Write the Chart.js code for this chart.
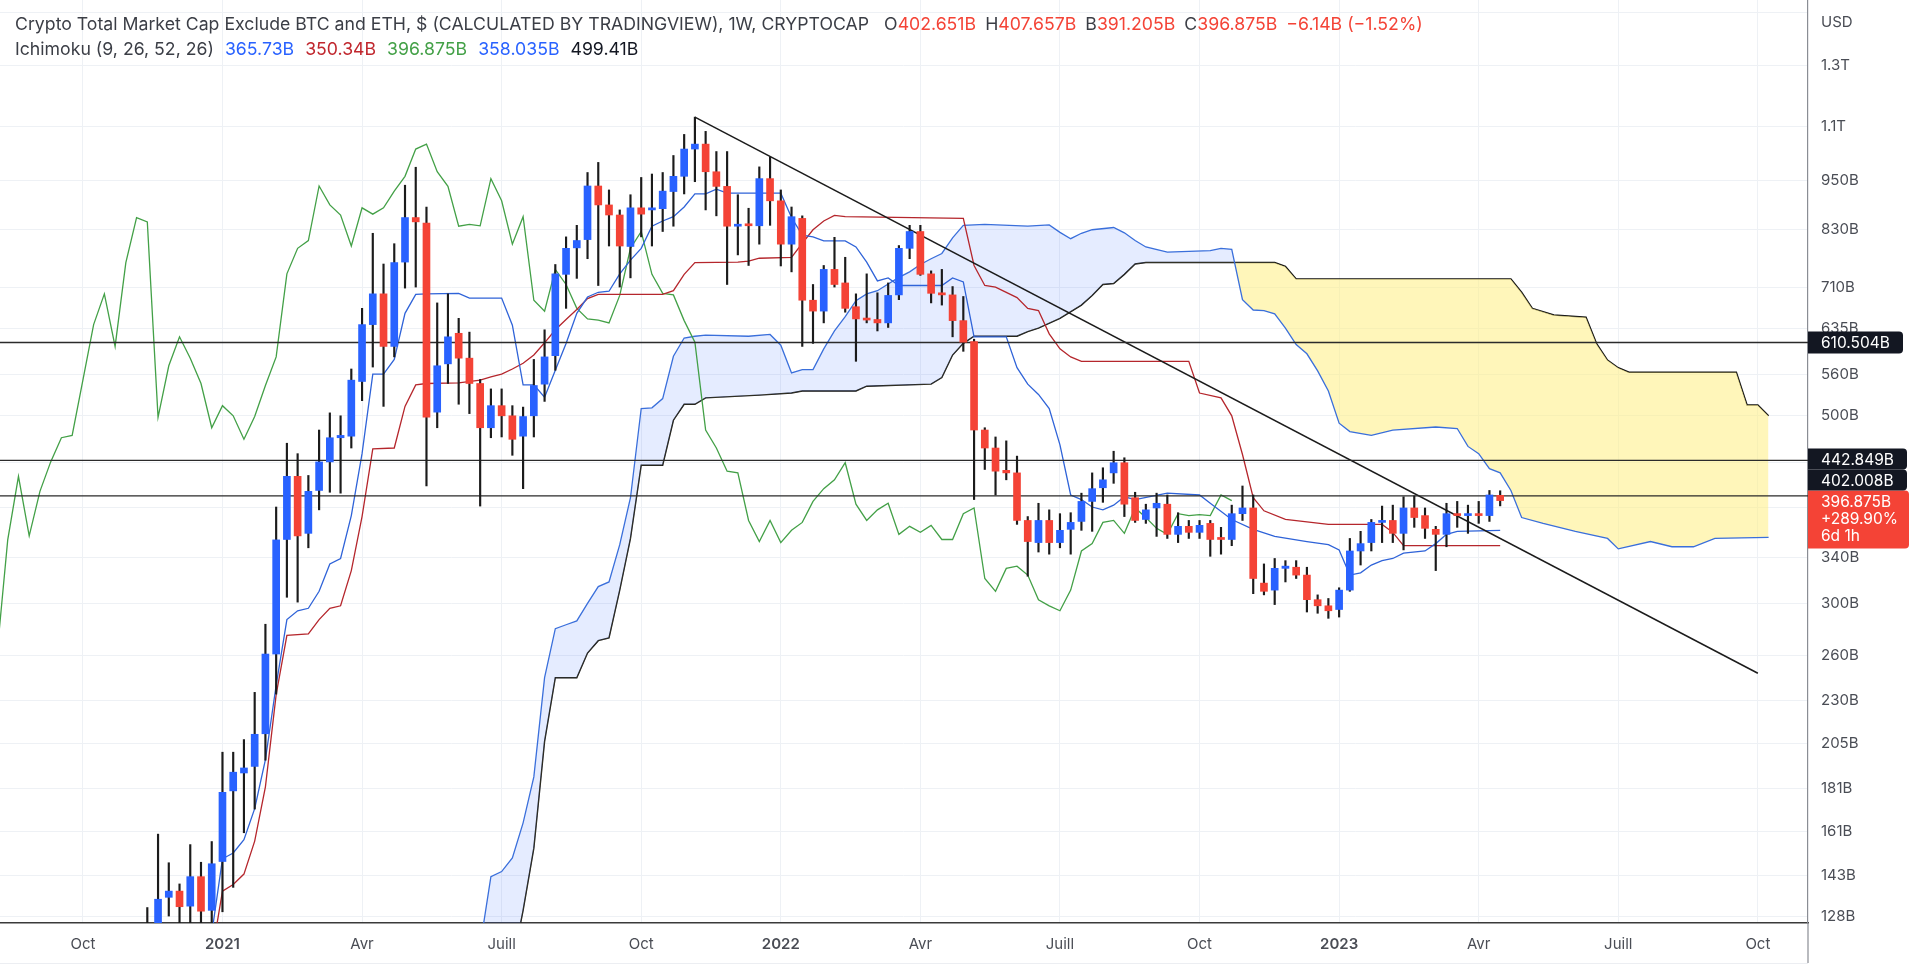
<!DOCTYPE html>
<html>
<head>
<meta charset="utf-8">
<title>Crypto Total Market Cap Exclude BTC and ETH</title>
<script src="https://cdn.jsdelivr.net/npm/chart.js@4.4.0/dist/chart.umd.min.js"></script>
<style>
  html, body { margin: 0; padding: 0; background: #fff; }
  #wrap { position: relative; width: 1920px; height: 968px; overflow: hidden; }
  #c { position: absolute; left: 0; top: 0; }
  .hdr { position: absolute; left: 15px; font-family: Inter, "Noto Sans", sans-serif; font-size: 17.7px;
         line-height: 20px; color: #3b3e46; white-space: nowrap; }
  .hdr .r { color: #f44336; }
  .hdr .gap { margin-left: 15px; }
  .hdr .sp { margin-left: 9px; }
  .hdr .sp2 { margin-left: 11px; }
  #usd { position: absolute; left: 1821px; top: 12px; font-family: Inter, sans-serif; font-size: 15px; color: #4a4d55; }
</style>
</head>
<body>
<div id="wrap">
  <canvas id="c" width="1920" height="968"></canvas>
  <div class="hdr" style="top:14px">Crypto Total Market Cap Exclude BTC and ETH, $ (CALCULATED BY TRADINGVIEW), 1W, CRYPTOCAP<span class="gap">O</span><span class="r">402.651B</span><span class="sp">H</span><span class="r">407.657B</span><span class="sp">B</span><span class="r">391.205B</span><span class="sp">C</span><span class="r">396.875B</span><span class="r sp">−6.14B (−1.52%)</span></div>
  <div class="hdr" style="top:39px">Ichimoku (9, 26, 52, 26)<span class="sp2" style="color:#2962ff">365.73B</span><span class="sp2" style="color:#c0262d">350.34B</span><span class="sp2" style="color:#43a047">396.875B</span><span class="sp2" style="color:#2962ff">358.035B</span><span class="sp2" style="color:#131722">499.41B</span></div>
  <div id="usd">USD</div>
</div>
<script>
// weekly candles, first one is week -7 (week 0 = first week of 2021), values in billions USD
const firstWeek = -7;

const opens = [
  112, 122, 134.7, 137, 131.5, 142.5, 130,
  148.5, 180, 189, 192.4, 210.3, 261.3, 357, 424, 363, 408,
  441, 471, 473, 549, 641, 697, 604, 760, 858, 845,
  505, 576, 626, 585, 546, 484, 514, 500, 473, 500,
  545, 589, 735, 790, 808, 935, 888, 864, 793, 881,
  876, 879, 921, 960, 1034, 1048, 972, 934, 838, 842,
  839, 954, 898, 798, 856, 685, 665, 745, 718, 673,
  652, 650, 644, 695, 789, 826, 736, 699, 695, 648,
  612, 481, 458, 431, 428, 376, 354, 376, 354, 367,
  375, 396, 411, 428, 440, 400, 377, 389, 393, 362,
  370, 364, 373, 359, 357, 383, 389, 317, 311, 330,
  331, 324, 303, 298, 295, 311, 346, 354, 374, 376,
  363, 389, 381, 367, 362, 383, 381, 382, 381, 402.651
];
const highs = [
  131, 160, 148, 139.7, 155.5, 148.2, 156.8,
  200, 200, 207, 235.4, 283.4, 390, 464, 451, 425, 481,
  504, 500, 568, 670, 822, 756, 799, 937, 984, 883,
  680, 697, 652, 628, 552, 538, 538, 514, 512, 583,
  632, 755, 814, 840, 970, 997, 925, 876, 913, 957,
  966, 970, 1016, 1076, 1128, 1085, 1027, 1027, 913, 880,
  985, 1012, 925, 883, 862, 715, 753, 813, 770, 697,
  736, 699, 718, 795, 840, 840, 742, 745, 711, 692,
  616, 484, 472, 467, 448, 380, 394, 387, 383, 384,
  405, 428, 434, 454, 446, 406, 393, 405, 403, 384,
  376, 376, 376, 369, 392, 413, 403, 334, 339, 337,
  337, 331, 307, 304, 313, 358, 365, 377, 391, 392,
  401, 402, 389, 370, 394, 396, 392, 396, 408, 407.657
];
const lows = [
  108, 118, 128, 124, 125, 124.5, 125,
  129.5, 138.4, 160.6, 171.3, 195.7, 234.3, 305, 301, 349, 387,
  406, 405, 458, 521, 571, 513, 587, 708, 710, 413,
  484, 546, 516, 503, 391, 471, 472, 449, 410, 472,
  520, 566, 670, 727, 767, 713, 794, 710, 728, 814,
  794, 826, 838, 915, 946, 876, 862, 715, 775, 753,
  798, 840, 752, 740, 604, 609, 644, 710, 663, 580,
  644, 630, 636, 686, 767, 733, 680, 676, 620, 596,
  398, 432, 403, 420, 372, 323, 345, 343, 349, 343,
  366, 365, 395, 416, 380, 374, 373, 360, 358, 354,
  358, 358, 341, 343, 351, 376, 308, 307, 299, 318,
  321, 293, 292, 288, 289, 310, 333, 346, 354, 354,
  347, 369, 358, 328, 350, 369, 363, 373, 375, 391.205
];
const closes = [
  122, 134, 137, 131.3, 142.5, 129.7, 147.6,
  179.3, 189.4, 191.6, 210, 261.3, 356.6, 424, 360.5, 407, 441,
  471, 474, 551, 641, 697, 604, 759, 858, 848, 498,
  573, 620, 585, 546, 484, 514, 500, 469, 499, 543,
  587, 736, 789, 806, 935, 888, 864, 794, 881, 866,
  881, 922, 960, 1034, 1048, 972, 934, 838, 842, 839,
  954, 898, 798, 860, 685, 665, 745, 715, 670, 651,
  649, 644, 694, 789, 826, 735, 698, 695, 648, 611,
  481, 458, 430, 428, 376, 355, 376, 354, 366, 374,
  396, 410, 420, 440, 393, 376, 387, 394, 362, 370,
  364, 371, 357, 357, 383, 389, 321, 310, 330, 332,
  324, 303, 298, 294, 311, 346, 353, 374, 376, 363,
  389, 379, 368, 362, 383, 381, 382, 381, 403, 396.875
];

// Ichimoku lines as [week, value] vertices
const tenkan = [
  [-1, 122], [0, 149.6], [1, 152], [2, 157.6], [3, 171.5], [4, 196], [5, 240], [6, 287], [7, 294], [8, 296],
  [9, 310], [10, 334], [11, 339], [12, 381], [13, 451], [14, 560], [15, 560], [16, 583], [17, 661], [18, 696],
  [19, 697], [22, 698], [23, 689], [26, 689], [27, 640], [28, 544], [29, 544], [30, 526], [31, 566], [32, 609],
  [33, 661], [34, 691], [35, 700], [36, 702], [37, 736], [38, 764], [39, 789], [40, 838], [41, 850], [42, 860],
  [43, 883], [44, 915], [45, 915], [46, 927], [47, 917], [52, 917], [53, 858], [54, 818], [55, 814], [56, 805],
  [58, 805], [59, 792], [60, 760], [61, 722], [62, 728], [63, 713], [67, 713], [68, 728], [69, 720], [70, 620],
  [73, 620], [74, 570], [75, 545], [76, 530], [77, 510], [78, 462], [79, 403], [80, 398], [81, 390], [82, 387],
  [83, 392], [84, 401], [85, 398], [88, 405], [91, 403], [92, 394], [94, 377], [96, 367], [98, 360], [101, 355],
  [103, 352], [104, 347], [105, 324], [106, 326], [107, 333], [108, 337], [109, 339], [110, 344], [112, 346],
  [113, 353], [114, 362], [115, 365], [119, 366]
];
const kijun = [
  [-1, 115], [0, 137], [1, 139.5], [2, 143.5], [3, 157], [4, 182], [5, 234], [6, 275], [8, 276], [9, 287],
  [10, 296], [11, 298], [12, 328], [13, 380], [14, 457], [16, 458], [17, 513], [18, 544], [19, 546], [22, 547],
  [24, 551], [25, 556], [26, 560], [27, 568], [28, 577], [29, 590], [30, 610], [31, 632], [32, 650], [33, 668],
  [34, 688], [35, 696], [41, 696], [42, 703], [43, 735], [44, 759], [48, 760], [49, 762], [50, 768], [53, 770],
  [54, 800], [55, 830], [56, 850], [57, 863], [58, 860], [69, 856], [70, 753], [71, 713], [72, 710], [74, 690],
  [75, 670], [76, 666], [77, 625], [78, 600], [79, 587], [80, 580], [90, 580], [91, 532], [93, 525], [94, 500],
  [95, 450], [96, 400], [97, 386], [99, 377], [103, 372], [108, 372], [109, 364], [110, 351], [119, 351]
];
const senkouA = [
  [24, 118], [25, 142.5], [26, 144.5], [27, 150], [28, 165], [29, 187], [30, 245], [31, 280], [32, 283], [33, 286],
  [34, 300], [35, 314], [36, 318], [37, 352], [38, 400], [39, 510], [40, 511], [41, 524], [42, 588], [43, 618],
  [44, 621], [45, 623], [49, 621], [51, 624], [52, 606], [53, 562], [54, 567], [55, 567], [56, 600], [57, 630],
  [58, 655], [59, 684], [60, 697], [61, 703], [62, 716], [63, 729], [64, 740], [65, 755], [66, 767], [67, 778],
  [68, 812], [69, 840], [71, 842], [75, 838], [77, 841], [78, 824], [79, 810], [80, 822], [81, 830], [83, 835],
  [84, 823], [85, 806], [86, 792], [88, 781], [92, 784], [93, 789], [94, 787], [95, 686], [96, 667], [97, 666],
  [98, 660], [99, 635], [100, 607], [101, 592], [102, 565], [103, 535], [104, 490], [105, 479], [107, 474],
  [109, 481], [113, 485], [115, 483], [116, 460], [117, 451], [118, 433], [119, 428], [120, 408], [121, 379],
  [123, 373], [126, 365], [129, 358], [130, 348], [133, 355], [135, 350], [137, 350], [139, 358], [144, 359]
];
const senkouB = [
  [24, 100], [27, 112], [28, 130], [29, 154], [30, 206], [31, 245], [33, 245], [34, 262], [35, 271], [36, 273],
  [37, 311], [38, 358], [39, 437], [41, 437], [42, 494], [43, 516], [44, 516], [45, 525], [50, 529], [53, 532],
  [54, 535], [59, 535], [60, 542], [66, 545], [67, 555], [68, 590], [69, 609], [70, 621], [74, 621], [75, 629],
  [76, 635], [78, 652], [80, 676], [81, 694], [82, 715], [83, 717], [84, 735], [85, 756], [86, 759], [98, 759],
  [99, 751], [100, 726], [120, 726], [121, 700], [122, 670], [124, 658], [127, 654], [128, 608], [129, 582],
  [130, 570], [131, 563], [141, 563], [142, 515], [143, 515], [144, 500]
];
const chikouShift = 25;

// drawn levels and trend line
const levels = [610.504, 442.849, 402.008];
const trendLine = [[44, 1128], [143, 248]];
const lastChangeText = ['+289.90%', '6d 1h'];

// axes
const xTickWeeks = [-13, 0, 13, 26, 39, 52, 65, 78, 91, 104, 117, 130, 143];
const xTickLabels = ['Oct', '2021', 'Avr', 'Juill', 'Oct', '2022', 'Avr', 'Juill', 'Oct', '2023', 'Avr', 'Juill', 'Oct'];
const yTickValues = [1500, 1300, 1100, 950, 830, 710, 635, 560, 500, 440, 390, 340, 300, 260, 230, 205, 181, 161, 143, 128];
const yTickLabels = ['', '1.3T', '1.1T', '950B', '830B', '710B', '635B', '560B', '500B', '', '', '340B', '300B', '260B', '230B', '205B', '181B', '161B', '143B', '128B'];

const X_MIN = -20.72, X_MAX = 147.67;
const Y_MIN = 125.6, Y_MAX = 1551.8;
const UP = '#2962ff', DOWN = '#f44336';
const FONT = 'Inter, "Noto Sans", sans-serif';

const weeks = opens.map((_, i) => firstWeek + i);
const pts = arr => arr.map(([x, y]) => ({ x, y }));

const priceTags = {
  id: 'priceTags',
  afterDraw(chart) {
    const ctx = chart.ctx, y = chart.scales.y, area = chart.chartArea;
    const left = area.right;
    ctx.save();
    // axis line running down through the time scale
    ctx.strokeStyle = '#8a8d94';
    ctx.lineWidth = 1.2;
    ctx.beginPath(); ctx.moveTo(left, area.bottom); ctx.lineTo(left, 963); ctx.stroke();
    ctx.strokeStyle = '#eceef2';
    ctx.beginPath(); ctx.moveTo(0, 963.5); ctx.lineTo(left, 963.5); ctx.stroke();

    ctx.font = '15.5px ' + FONT;
    ctx.textBaseline = 'middle';
    const box = (top, h, w, color, lines) => {
      ctx.fillStyle = color;
      ctx.beginPath();
      ctx.roundRect(left, top, w, h, [0, 4, 4, 0]);
      ctx.fill();
      ctx.fillStyle = '#fff';
      lines.forEach((t, i) => ctx.fillText(t, left + 13, top + 12 + i * 17));
    };
    const last = closes[closes.length - 1];
    const lastTop = y.getPixelForValue(last) - 10;
    box(lastTop, 58, 101, DOWN, [last.toFixed(3) + 'B'].concat(lastChangeText));
    let limit = lastTop;
    [levels[2], levels[1]].forEach(v => {
      const c = Math.min(y.getPixelForValue(v), limit - 10.5);
      box(c - 10.5, 21, 99, '#131722', [v.toFixed(3) + 'B']);
      limit = c - 10.5;
    });
    const c0 = y.getPixelForValue(levels[0]);
    box(c0 - 11, 22, 95, '#131722', [levels[0].toFixed(3) + 'B']);
    ctx.restore();
  }
};

new Chart(document.getElementById('c'), {
  type: 'line',
  data: {
    datasets: [
      {
        type: 'bar', label: 'bodies', order: 0, grouped: false, barThickness: 7, minBarLength: 2,
        data: weeks.map((w, i) => ({ x: w, y: [Math.min(opens[i], closes[i]), Math.max(opens[i], closes[i])] })),
        backgroundColor: opens.map((o, i) => closes[i] >= o ? UP : DOWN)
      },
      {
        type: 'bar', label: 'wicks', order: 1, grouped: false, barThickness: 1.5,
        data: weeks.map((w, i) => ({ x: w, y: [lows[i], highs[i]] })),
        backgroundColor: '#1b1b1b'
      },
      {
        label: 'levels', order: 2, borderColor: '#2b2b2b', borderWidth: 1.4, pointRadius: 0,
        data: levels.flatMap(v => [{ x: X_MIN, y: v }, { x: X_MAX, y: v }, { x: NaN, y: NaN }]), spanGaps: false
      },
      {
        label: 'trend', order: 2, borderColor: '#1b1b1b', borderWidth: 1.5, pointRadius: 0,
        data: pts(trendLine)
      },
      {
        label: 'tenkan', order: 3, borderColor: '#2f63d8', borderWidth: 1.3, pointRadius: 0,
        data: pts(tenkan)
      },
      {
        label: 'kijun', order: 3, borderColor: '#b5262c', borderWidth: 1.3, pointRadius: 0,
        data: pts(kijun)
      },
      {
        label: 'chikou', order: 3, borderColor: '#43a047', borderWidth: 1.3, pointRadius: 0,
        data: closes.map((c, i) => ({ x: weeks[i] - chikouShift, y: c }))
      },
      {
        label: 'senkouA', order: 5, borderColor: '#3a6fdb', borderWidth: 1.3, pointRadius: 0,
        data: pts(senkouA),
        fill: { target: 8, above: 'rgba(41, 98, 255, 0.12)', below: 'rgba(255, 238, 130, 0.55)' }
      },
      {
        label: 'senkouB', order: 5, borderColor: '#111', borderWidth: 1.4, pointRadius: 0,
        data: pts(senkouB)
      }
    ]
  },
  options: {
    responsive: false,
    devicePixelRatio: 1,
    animation: false,
    events: [],
    layout: { padding: 0 },
    elements: { line: { tension: 0 } },
    plugins: { legend: { display: false }, tooltip: { enabled: false } },
    scales: {
      x: {
        type: 'linear', min: X_MIN, max: X_MAX, bounds: 'data', offset: false,
        grid: { color: '#eef1f5', drawTicks: false, offset: false },
        border: { color: '#3a3a3a', width: 1.6 },
        afterBuildTicks: s => { s.ticks = xTickWeeks.map(v => ({ value: v })); },
        afterFit: s => { s.height = 45; s.paddingLeft = 0; s.paddingRight = 0; },
        ticks: {
          autoSkip: false, maxRotation: 0, padding: 12, color: '#4a4d55',
          font: c => ({ family: FONT, size: 15, weight: /^\d{4}$/.test(xTickLabels[c.index] || '') ? '600' : '400' }),
          callback: (v, i) => xTickLabels[i]
        }
      },
      y: {
        type: 'logarithmic', position: 'right', min: Y_MIN, max: Y_MAX, bounds: 'data',
        grid: { color: '#eef1f5', drawTicks: false },
        border: { color: '#8a8d94', width: 1.2 },
        afterBuildTicks: s => { s.ticks = yTickValues.map(v => ({ value: v })); },
        afterFit: s => { s.width = 112; s.paddingTop = 0; s.paddingBottom = 0; },
        ticks: {
          autoSkip: false, padding: 13, color: '#4a4d55',
          font: { family: FONT, size: 15 },
          callback: (v, i) => yTickLabels[i]
        }
      }
    }
  },
  plugins: [priceTags]
});
</script>
</body>
</html>
